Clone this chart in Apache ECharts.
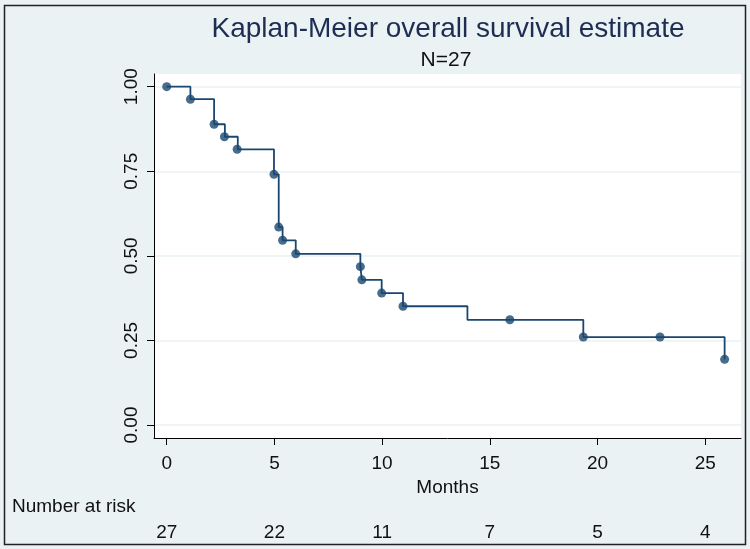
<!DOCTYPE html>
<html>
<head>
<meta charset="utf-8">
<script src="https://cdn.jsdelivr.net/npm/echarts@6/dist/echarts.min.js"></script>
<style>
  html, body { margin: 0; padding: 0; background: #eaf2f3; }
  #main { width: 750px; height: 549px; }
</style>
</head>
<body>
<div id="main"></div>
<script>
// Kaplan-Meier step curve (time where the estimate changes, new estimate)
var stepMonths = [0, 1.1, 2.2, 2.7, 3.3, 4.98, 5.2, 5.38, 5.99, 8.99, 9.06, 9.98, 10.97, 13.96, 19.34, 25.9];
var stepSurvival = [1.0, 0.963, 0.889, 0.852, 0.815, 0.741, 0.585, 0.546, 0.506, 0.468, 0.429, 0.390, 0.351, 0.311, 0.260, 0.194];

// dot markers
var dotMonths = [0, 1.1, 2.2, 2.68, 3.27, 4.98, 5.2, 5.38, 5.99, 8.99, 9.06, 9.98, 10.97, 15.93, 19.34, 22.9, 25.9];
var dotSurvival = [1.0, 0.963, 0.889, 0.852, 0.815, 0.741, 0.585, 0.546, 0.506, 0.468, 0.429, 0.390, 0.351, 0.311, 0.260, 0.260, 0.194];

var monthTicks = [0, 5, 10, 15, 20, 25];
var atRisk = [27, 22, 11, 7, 5, 4];
var survivalTicks = [0, 0.25, 0.5, 0.75, 1];

var navy = '#1a476f';
var font = 'Liberation Sans, Arial, sans-serif';

var dom = document.getElementById('main');
var myChart = echarts.init(dom, null, { renderer: 'canvas' });

var stepData = stepMonths.map(function (t, i) { return [t, stepSurvival[i]]; });
var dotData = dotMonths.map(function (t, i) { return [t, dotSurvival[i]]; });

var option = {
  backgroundColor: '#eaf2f3',
  animation: false,
  title: [
    {
      text: 'Kaplan-Meier overall survival estimate',
      left: 443,
      top: 10,
      textAlign: 'center',
      textStyle: { fontFamily: font, fontSize: 28, fontWeight: 'normal', color: '#1e2d53' }
    },
    {
      text: 'N=27',
      left: 441,
      top: 45,
      textAlign: 'center',
      textStyle: { fontFamily: font, fontSize: 21, fontWeight: 'normal', color: '#111' }
    }
  ],
  grid: {
    left: 154,
    right: 9,
    top: 74,
    bottom: 111,
    show: true,
    backgroundColor: '#ffffff',
    borderWidth: 0
  },
  xAxis: [
    {
      type: 'value',
      min: -0.59,
      max: 26.66,
      name: 'Months',
      nameLocation: 'middle',
      nameGap: 30,
      nameTextStyle: { fontFamily: font, fontSize: 19, color: '#111' },
      axisLine: { show: true, onZero: false, lineStyle: { color: '#000', width: 1 } },
      axisTick: { show: true, length: 7, customValues: monthTicks, lineStyle: { color: '#000' } },
      axisLabel: { customValues: monthTicks, margin: 16, fontFamily: font, fontSize: 19, color: '#111' },
      splitLine: { show: false }
    },
    {
      type: 'value',
      min: -0.59,
      max: 26.66,
      position: 'bottom',
      offset: 69,
      axisLine: { show: false },
      axisTick: { show: false, customValues: monthTicks },
      axisLabel: {
        customValues: monthTicks,
        margin: 16,
        fontFamily: font,
        fontSize: 19,
        color: '#111',
        formatter: function (v) { return atRisk[monthTicks.indexOf(v)]; }
      },
      splitLine: { show: false }
    }
  ],
  yAxis: {
    type: 'value',
    min: -0.0384,
    max: 1.0375,
    axisLine: { show: true, onZero: false, lineStyle: { color: '#000', width: 1 } },
    axisTick: { show: true, length: 7, customValues: survivalTicks, lineStyle: { color: '#000' } },
    axisLabel: {
      customValues: survivalTicks,
      rotate: 90,
      margin: 13,
      fontFamily: font,
      fontSize: 19,
      color: '#111',
      formatter: function (v) { return v.toFixed(2); }
    },
    splitLine: { show: true, lineStyle: { color: '#eaf2f3', width: 1.5 } }
  },
  graphic: [
    {
      type: 'rect',
      shape: { x: 4.5, y: 5.5, width: 741, height: 539 },
      style: { fill: 'none', stroke: '#222', lineWidth: 1.5 },
      silent: true
    },
    {
      type: 'text',
      left: 12,
      top: 497,
      style: { text: 'Number at risk', font: '19px ' + font, fill: '#111' }
    }
  ],
  series: [
    {
      name: 'Survival',
      type: 'line',
      step: 'end',
      showSymbol: false,
      lineStyle: { color: navy, width: 1.8 },
      data: stepData
    },
    {
      name: 'Markers',
      type: 'scatter',
      symbolSize: 9,
      itemStyle: { color: navy },
      data: dotData
    }
  ]
};

if (option && typeof option === 'object') {
  myChart.setOption(option);
}

window.addEventListener('resize', myChart.resize);
</script>
</body>
</html>
